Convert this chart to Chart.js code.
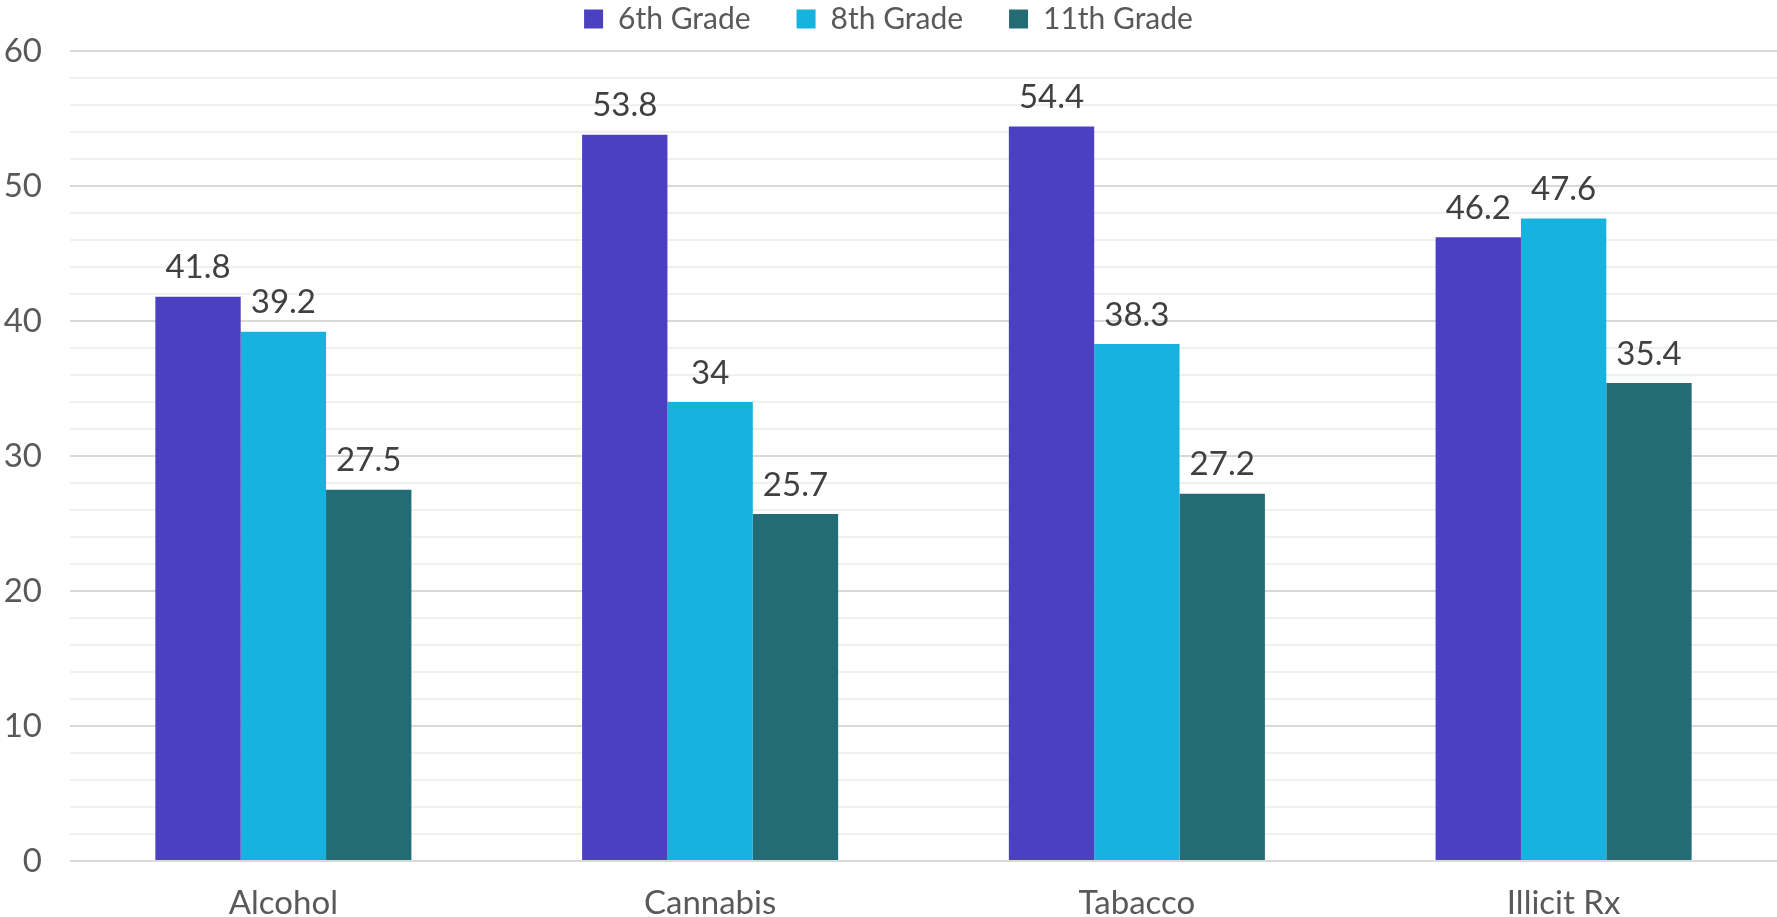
<!DOCTYPE html>
<html>
<head>
<meta charset="utf-8">
<script src="https://cdn.jsdelivr.net/npm/chart.js@4.4.1/dist/chart.umd.min.js"></script>
<style>
  html, body { margin: 0; padding: 0; background: #fff; }
  #wrap { width: 1777px; height: 917px; position: relative; }
</style>
</head>
<body>
<div id="wrap"><canvas id="myChart"></canvas></div>
<script>
var categories = ['Alcohol', 'Cannabis', 'Tabacco', 'Illicit Rx'];
var sixthGrade = [41.8, 53.8, 54.4, 46.2];
var eighthGrade = [39.2, 34, 38.3, 47.6];
var eleventhGrade = [27.5, 25.7, 27.2, 35.4];
var seriesNames = ['6th Grade', '8th Grade', '11th Grade'];

document.addEventListener('DOMContentLoaded', function() {
    "use strict";

    var FONT = 'Lato, "Noto Sans", sans-serif';
    var LEGEND_GAP = 46;     // horizontal gap between legend items
    var LEGEND_TOP = -42;    // shifts legend so its text sits near the top
    var LEGEND_HEIGHT = 93;  // fixed legend box height

    /* value labels above each bar */
    var barLabels = {
        id: 'barLabels',
        afterDatasetsDraw: function(chart) {
            var ctx = chart.ctx;
            ctx.save();
            ctx.font = '33px ' + FONT;
            ctx.fillStyle = '#404040';
            ctx.textAlign = 'center';
            ctx.textBaseline = 'middle';
            chart.data.datasets.forEach(function(ds, i) {
                chart.getDatasetMeta(i).data.forEach(function(bar, j) {
                    ctx.fillText(String(ds.data[j]), bar.x, bar.y - 29);
                });
            });
            ctx.restore();
        }
    };

    /* legend padding is used for both the item gap and the vertical offset,
       so pin the legend height here */
    var legendHeight = {
        id: 'legendHeight',
        beforeLayout: function(chart) {
            var lg = chart.legend;
            if (lg && !lg._fitWrapped) {
                var origFit = lg.fit;
                lg.fit = function() {
                    origFit.apply(this, arguments);
                    this.height = LEGEND_HEIGHT;
                };
                lg._fitWrapped = true;
            }
        }
    };

    var ctx = document.getElementById('myChart').getContext('2d');
    var chart = new Chart(ctx, {
        type: 'bar',
        data: {
            labels: categories,
            datasets: [{
                label: seriesNames[0],
                backgroundColor: '#4B40C2',
                data: sixthGrade
            },
            {
                label: seriesNames[1],
                backgroundColor: '#17B2DE',
                data: eighthGrade
            },
            {
                label: seriesNames[2],
                backgroundColor: '#246C75',
                data: eleventhGrade
            }]
        },
        options: {
            responsive: true,
            maintainAspectRatio: false,
            animation: false,
            layout: { padding: { left: 0, right: 0, top: LEGEND_TOP, bottom: 0 } },
            datasets: {
                bar: { categoryPercentage: 0.6, barPercentage: 1.0 }
            },
            plugins: {
                legend: {
                    position: 'top',
                    labels: {
                        boxWidth: 19,
                        boxHeight: 19,
                        padding: LEGEND_GAP,
                        color: '#595959',
                        font: { family: FONT, size: 30 }
                    }
                },
                tooltip: { enabled: false }
            },
            scales: {
                x: {
                    grid: { display: false, drawTicks: false },
                    border: { display: false },
                    afterFit: function(scale) { scale.height = 56; },
                    ticks: {
                        color: '#595959',
                        padding: 23,
                        font: { family: FONT, size: 33 }
                    }
                },
                y: {
                    min: 0,
                    max: 60,
                    border: { display: false },
                    afterFit: function(scale) { scale.width = 70; },
                    grid: {
                        drawTicks: false,
                        color: function(c) {
                            return c.tick.value % 10 === 0 ? '#d9d9d9' : '#f0f0f0';
                        },
                        lineWidth: 2
                    },
                    ticks: {
                        stepSize: 2,
                        autoSkip: false,
                        padding: 28,
                        color: '#595959',
                        font: { family: FONT, size: 33 },
                        callback: function(v) {
                            return v % 10 === 0 ? v : '';
                        }
                    }
                }
            }
        },
        plugins: [barLabels, legendHeight]
    });
});
</script>
</body>
</html>
